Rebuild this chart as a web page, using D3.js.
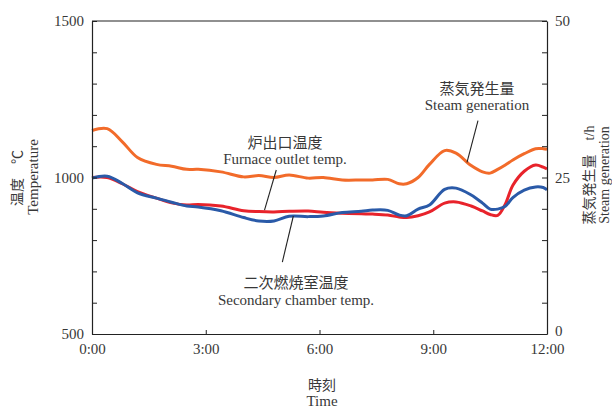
<!DOCTYPE html>
<html>
<head>
<meta charset="utf-8">
<script src="https://cdn.jsdelivr.net/npm/d3@7"></script>
<style>
  body { margin: 0; background: #fff; }
  svg text { font-family: "Liberation Serif", "Noto Sans CJK JP", serif; fill: #383838; }
</style>
</head>
<body>
<main></main>
<script>
// hours from 0:00
const times = [0, 0.4, 0.8, 1.2, 1.7, 2.1, 2.5, 2.8, 3.4, 4.0, 4.4, 4.8, 5.2, 5.7, 6.1, 6.6, 7.1, 7.4,
  7.8, 8.1, 8.3, 8.6, 8.9, 9.3, 9.6, 10.0, 10.3, 10.5, 10.7, 10.9, 11.1, 11.4, 11.7, 11.9, 12.0]

// t/h, right axis
const steam = [32.5, 32.8, 30.7, 28.2, 27.1, 26.8, 26.3, 26.3, 25.9, 25.1, 25.3, 25.0, 25.4, 24.9, 25.0, 24.6, 24.6, 24.6,
  24.7, 24.0, 24.0, 25.0, 27.1, 29.3, 28.9, 26.9, 25.9, 25.7, 26.3, 27.0, 27.8, 28.8, 29.6, 29.6, 29.5]

// deg C, left axis
const furnace = [1000, 1000, 980, 955, 934, 919, 912, 914, 909, 894, 891, 890, 892, 893, 889, 886, 884, 883,
  880, 874, 872, 878, 890, 918, 922, 909, 893, 882, 879, 915, 975, 1020, 1040, 1033, 1027]

const secondary = [998, 1004, 981, 951, 934, 921, 909, 906, 894, 872, 861, 861, 876, 875, 877, 888, 892, 896,
  895, 880, 878, 899, 912, 962, 966, 944, 918, 899, 899, 908, 936, 960, 970, 968, 961]

const tempTicks = [500, 1000, 1500]
const steamTicks = [0, 25, 50]
const timeTicks = [0, 3, 6, 9, 12]

const w = 612
const h = 409
const padL = 92, padR = 547, padT = 21, padB = 334
const serif = '"Liberation Serif", "Noto Sans CJK JP", serif'

const svg = d3.select("main").append("svg").attr("width", w).attr("height", h)

const x = d3.scaleLinear().domain([0, 12]).range([padL, padR])
const yT = d3.scaleLinear().domain([500, 1500]).range([padB, padT])
const yS = d3.scaleLinear().domain([0, 50]).range([padB, padT])

const curve = d3.curveCatmullRom.alpha(0.5)

const series = [
  { vals: steam, scale: yS, color: "#f26b2a" },
  { vals: furnace, scale: yT, color: "#e8232b" },
  { vals: secondary, scale: yT, color: "#2a5aa8" },
]

series.forEach(s => {
  const line = d3.line().x((d, i) => x(times[i])).y(d => s.scale(d)).curve(curve)
  svg.append("path")
    .datum(s.vals)
    .attr("fill", "none")
    .attr("stroke", s.color)
    .attr("stroke-width", 3)
    .attr("stroke-linejoin", "round")
    .attr("d", line)
})

// axes
const styleAxis = g => {
  g.attr("font-family", serif)
  g.selectAll("path.domain").attr("stroke", "#222").attr("stroke-width", 1.2)
  g.selectAll(".tick line").attr("stroke", "#222")
  g.selectAll(".tick text").style("font-size", "15px").style("font-family", serif).attr("fill", "#383838")
}

svg.append("g")
  .attr("transform", `translate(${padL},0)`)
  .call(d3.axisLeft(yT).tickValues(d3.range(500, 1501, 100)).tickSizeInner(-5).tickSizeOuter(0)
    .tickPadding(8).tickFormat(d => tempTicks.includes(d) ? d : ""))
  .call(styleAxis)

const rightAxis = svg.append("g")
  .attr("transform", `translate(${padR},0)`)
  .call(d3.axisRight(yS).tickValues(d3.range(0, 51, 5)).tickSizeInner(-5).tickSizeOuter(0)
    .tickPadding(8).tickFormat(d => steamTicks.includes(d) ? d : ""))
  .call(styleAxis)
// lift the "0" a little so it clears "12:00"
rightAxis.selectAll(".tick text").filter(d => d === 0).attr("dy", "0.1em")

svg.append("g")
  .attr("transform", `translate(0,${padB})`)
  .call(d3.axisBottom(x).tickValues(timeTicks).tickSizeInner(-4).tickSizeOuter(0)
    .tickPadding(9).tickFormat(d => d + ":00"))
  .call(styleAxis)

svg.append("line")
  .attr("x1", padL).attr("x2", padR).attr("y1", padT).attr("y2", padT)
  .attr("stroke", "#222").attr("stroke-width", 1.2)

// axis titles
svg.append("text")
  .attr("transform", `translate(22,178) rotate(-90)`)
  .attr("text-anchor", "middle").style("font-size", "14px")
  .text("温度　℃")
svg.append("text")
  .attr("transform", `translate(38,177) rotate(-90)`)
  .attr("text-anchor", "middle").style("font-size", "15px")
  .text("Temperature")

svg.append("text")
  .attr("transform", `translate(594,175) rotate(-90)`)
  .attr("text-anchor", "middle").style("font-size", "14px")
  .text("蒸気発生量　t/h")
svg.append("text")
  .attr("transform", `translate(609,175) rotate(-90)`)
  .attr("text-anchor", "middle").style("font-size", "14px")
  .text("Steam generation")

svg.append("text")
  .attr("x", 322).attr("y", 390)
  .attr("text-anchor", "middle").style("font-size", "14px")
  .text("時刻")
svg.append("text")
  .attr("x", 322).attr("y", 406)
  .attr("text-anchor", "middle").style("font-size", "15px")
  .text("Time")

// annotations: leader lines in data units
const notes = [
  { jp: "炉出口温度", en: "Furnace outlet temp.", tx: 285, jy: 148, ey: 164,
    from: [4.86, 1024], to: [4.55, 896], scale: yT },
  { jp: "二次燃焼室温度", en: "Secondary chamber temp.", tx: 296, jy: 288, ey: 305,
    from: [5.02, 730], to: [5.31, 877], scale: yT },
  { jp: "蒸気発生量", en: "Steam generation", tx: 477, jy: 94, ey: 110,
    from: [10.18, 34.1], to: [9.89, 27.4], scale: yS },
]

notes.forEach(n => {
  svg.append("line")
    .attr("x1", x(n.from[0])).attr("y1", n.scale(n.from[1]))
    .attr("x2", x(n.to[0])).attr("y2", n.scale(n.to[1]))
    .attr("stroke", "#222").attr("stroke-width", 1.1)
  svg.append("text").attr("x", n.tx).attr("y", n.jy)
    .attr("text-anchor", "middle").style("font-size", "15px").text(n.jp)
  svg.append("text").attr("x", n.tx).attr("y", n.ey)
    .attr("text-anchor", "middle").style("font-size", "15px").text(n.en)
})
</script>
</body>
</html>
